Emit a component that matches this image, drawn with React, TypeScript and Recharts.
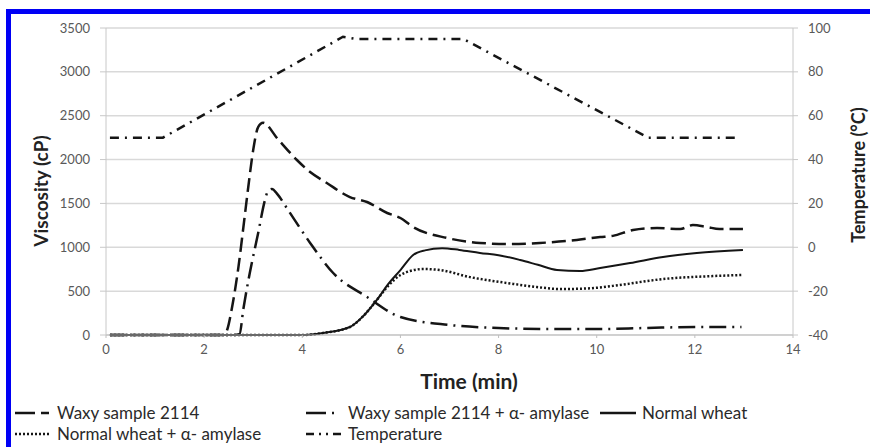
import React from 'react';
import { LineChart, Line, XAxis, YAxis, CartesianGrid } from 'recharts';

// time (min) / viscosity (cP) pairs
const waxyTime = [0.08, 2.42, 2.47, 2.57, 2.7, 2.8, 2.9, 3.0, 3.1, 3.2, 3.5, 3.89, 4.16, 4.5, 4.97, 5.32, 5.73, 6.0, 6.26, 6.95, 7.62, 8.23, 8.84, 9.39, 10.07, 10.33, 10.74, 11.23, 11.7, 11.96, 12.25, 12.5, 12.98];
const waxyVisc = [0, 0, 60, 320, 780, 1230, 1690, 2110, 2370, 2420, 2235, 1995, 1858, 1733, 1573, 1516, 1391, 1334, 1231, 1106, 1049, 1037, 1049, 1072, 1117, 1130, 1197, 1220, 1208, 1254, 1231, 1208, 1208];

const waxyAmyTime = [0.08, 2.6, 2.72, 2.8, 2.93, 3.1, 3.24, 3.3, 3.38, 3.5, 3.71, 4.16, 4.63, 5.32, 6.0, 7.0, 8.0, 9.0, 10.0, 11.0, 12.0, 12.95];
const waxyAmyVisc = [0, 0, 10, 300, 707, 1160, 1540, 1640, 1665, 1600, 1425, 1050, 707, 433, 205, 114, 80, 68, 68, 80, 91, 91];

const wheatTime = [0.08, 4.0, 4.42, 4.97, 5.25, 5.52, 5.75, 6.0, 6.26, 6.5, 6.85, 7.2, 7.62, 8.0, 8.44, 8.8, 9.19, 9.66, 10.07, 10.68, 11.35, 12.04, 12.98];
const wheatVisc = [0, 0, 23, 91, 220, 400, 580, 740, 912, 965, 990, 970, 935, 910, 855, 800, 741, 730, 764, 820, 890, 935, 969];

const wheatAmyTime = [0.08, 4.0, 4.42, 4.97, 5.25, 5.52, 5.75, 6.0, 6.2, 6.46, 6.81, 7.42, 8.17, 8.78, 9.25, 9.8, 10.33, 11.35, 12.37, 12.96];
const wheatAmyVisc = [0, 0, 23, 91, 220, 400, 560, 684, 730, 752, 740, 660, 593, 547, 524, 530, 560, 638, 672, 684];

const tempTime = [0.08, 1.16, 4.83, 5.1, 7.28, 11.05, 12.82];
const tempC = [50, 50, 96, 95, 95, 50, 50];

const timeTicks = [0, 2, 4, 6, 8, 10, 12, 14];
const viscTicks = [0, 500, 1000, 1500, 2000, 2500, 3000, 3500];
const tempTicks = [-40, -20, 0, 20, 40, 60, 80, 100];

const toPoints = (t: number[], v: number[]) => t.map((x, i) => ({ t: x, v: v[i] }));

const ink = '#151515';
const font = 'Lato, "Open Sans", sans-serif';

const series = [
  { name: 'Waxy sample 2114', data: toPoints(waxyTime, waxyVisc), axis: 'visc', curve: 'monotone', dash: '14 6', width: 2.5, legendDash: '20 6 8 6' },
  { name: 'Waxy sample 2114 + \u03b1- amylase', data: toPoints(waxyAmyTime, waxyAmyVisc), axis: 'visc', curve: 'monotone', dash: '17 6 2 6', width: 2.5, legendDash: '20 6 2 10' },
  { name: 'Normal wheat', data: toPoints(wheatTime, wheatVisc), axis: 'visc', curve: 'monotone', dash: undefined, width: 2, legendDash: undefined },
  { name: 'Normal wheat + \u03b1- amylase', data: toPoints(wheatAmyTime, wheatAmyVisc), axis: 'visc', curve: 'monotone', dash: '2 2', width: 2.5, legendDash: '2 2' },
  { name: 'Temperature', data: toPoints(tempTime, tempC), axis: 'temp', curve: 'linear', dash: '9 6 2 6', width: 2.5, legendDash: '8 5 2 5 2 5 8' },
];

const legendSpots = [
  { left: 15, top: 402 },
  { left: 306, top: 402 },
  { left: 600, top: 402 },
  { left: 15, top: 423 },
  { left: 306, top: 423 },
];

const tickStyle = { fill: '#595959', fontSize: 13, fontFamily: font };

export default function App() {
  return (
    <div style={{ position: 'absolute', left: 0, top: 0, width: 870, height: 447, background: '#fff', overflow: 'hidden' }}>
      <div
        style={{
          position: 'absolute', left: 6, top: 9, right: 0, bottom: 0,
          borderTop: '5px solid #0000f5', borderLeft: '5px solid #0000f5',
        }}
      />
      <div style={{ position: 'absolute', left: 0, top: 0 }}>
        <LineChart width={870} height={447} margin={{ top: 28, right: 27, left: 6, bottom: 82 }}>
          <CartesianGrid yAxisId="visc" vertical={false} stroke="#d9d9d9" strokeWidth={1.5} />
          <XAxis
            type="number"
            dataKey="t"
            domain={[0, 14]}
            ticks={timeTicks}
            height={30}
            tick={tickStyle}
            tickSize={3}
            tickMargin={7}
            stroke="#bfbfbf"
            allowDuplicatedCategory={false}
          />
          <YAxis
            yAxisId="visc"
            domain={[0, 3500]}
            ticks={viscTicks}
            width={100}
            tick={tickStyle}
            tickSize={6}
            tickMargin={10}
            stroke="#c8c8c8"
          />
          <YAxis
            yAxisId="temp"
            orientation="right"
            domain={[-40, 100]}
            ticks={tempTicks}
            width={50}
            tick={{ ...tickStyle, textAnchor: 'start' }}
            tickSize={5}
            tickMargin={10}
            stroke="#c8c8c8"
          />
          {series.map((s) => (
            <Line
              key={s.name}
              yAxisId={s.axis}
              data={s.data}
              dataKey="v"
              name={s.name}
              type={s.curve as 'monotone' | 'linear'}
              stroke={ink}
              strokeWidth={s.width}
              strokeDasharray={s.dash}
              dot={false}
              isAnimationActive={false}
            />
          ))}
        </LineChart>
      </div>

      <div
        style={{
          position: 'absolute', left: 40, top: 191, transform: 'translate(-50%, -50%) rotate(-90deg)',
          fontFamily: font, fontWeight: 700, fontSize: 19, color: '#222', whiteSpace: 'nowrap',
        }}
      >
        Viscosity (cP)
      </div>
      <div
        style={{
          position: 'absolute', left: 858, top: 175, transform: 'translate(-50%, -50%) rotate(-90deg)',
          fontFamily: font, fontWeight: 700, fontSize: 18, color: '#222', whiteSpace: 'nowrap', lineHeight: '20px',
        }}
      >
        Temperature (°C)
      </div>
      <div
        style={{
          position: 'absolute', left: 469, top: 380, transform: 'translate(-50%, -50%)',
          fontFamily: font, fontWeight: 700, fontSize: 21, color: '#222', whiteSpace: 'nowrap',
        }}
      >
        Time (min)
      </div>

      {series.map((s, i) => (
        <div
          key={s.name}
          style={{
            position: 'absolute', left: legendSpots[i].left, top: legendSpots[i].top,
            display: 'flex', alignItems: 'center', fontFamily: font, fontSize: 17, color: '#2a2a2a', whiteSpace: 'nowrap',
          }}
        >
          <svg width={36} height={20} style={{ marginRight: 6 }}>
            <line x1={0} y1={10} x2={36} y2={10} stroke={ink} strokeWidth={2.5} strokeDasharray={s.legendDash} />
          </svg>
          {s.name}
        </div>
      ))}
    </div>
  );
}
